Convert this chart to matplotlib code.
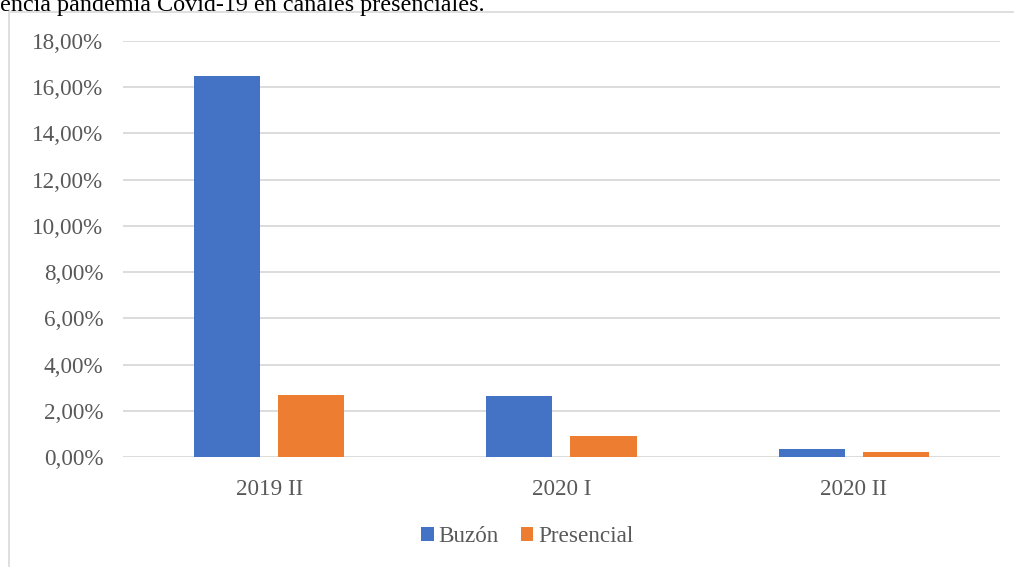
import matplotlib.pyplot as plt
import numpy as np
from matplotlib.patches import Rectangle

# Datos
periodos = ["2019 II", "2020 I", "2020 II"]
buzon = [16.48, 2.64, 0.35]
presencial = [2.68, 0.90, 0.20]
yticks = [0, 2, 4, 6, 8, 10, 12, 14, 16, 18]

plt.rcParams['font.family'] = ['Liberation Serif', 'DejaVu Serif']
fs = 16.7

fig = plt.figure(figsize=(10.14, 5.67), dpi=100)
ax = fig.add_axes([0.1213, 0.194, 0.8647, 0.7337])

# marco del grafico (recortado)
fig.patches.append(Rectangle((9 / 1014, -0.01), 1.1, (567 - 12) / 567 + 0.01,
                             transform=fig.transFigure, fill=False,
                             edgecolor='#d9d9d9', linewidth=1.2))
fig.text(0.0, 1 - 6 / 567, "encia pandemia Covid-19 en canales presenciales.",
         fontsize=17.4, color='black', va='center', ha='left')

x = np.arange(len(periodos))
w = 0.226
gap = 0.062
ax.bar(x - (w + gap) / 2, buzon, w, color='#4472c4', label='Buzón', zorder=3)
ax.bar(x + (w + gap) / 2, presencial, w, color='#ed7d31', label='Presencial', zorder=3)

ax.set_xlim(-0.5, len(periodos) - 0.5)
ax.set_ylim(0, 18)
ax.set_yticks(yticks)
ax.set_yticklabels([("%.2f" % v).replace('.', ',') + "%" for v in yticks])
ax.set_xticks(x)
ax.set_xticklabels(periodos)
ax.tick_params(length=0, labelsize=fs, labelcolor='#595959')
ax.tick_params(axis='y', pad=14)
ax.tick_params(axis='x', pad=16)
ax.grid(axis='y', color='#d9d9d9', linewidth=1.3, zorder=0)
for s in ax.spines.values():
    s.set_visible(False)

leg = ax.legend(loc='center', bbox_to_anchor=(0.461, -0.192), ncol=2, frameon=False,
                fontsize=fs, handlelength=0.55, handleheight=0.55, handletextpad=0.2,
                columnspacing=0.95)
for t in leg.get_texts():
    t.set_color('#595959')

fig.savefig("out.png", dpi=100)
